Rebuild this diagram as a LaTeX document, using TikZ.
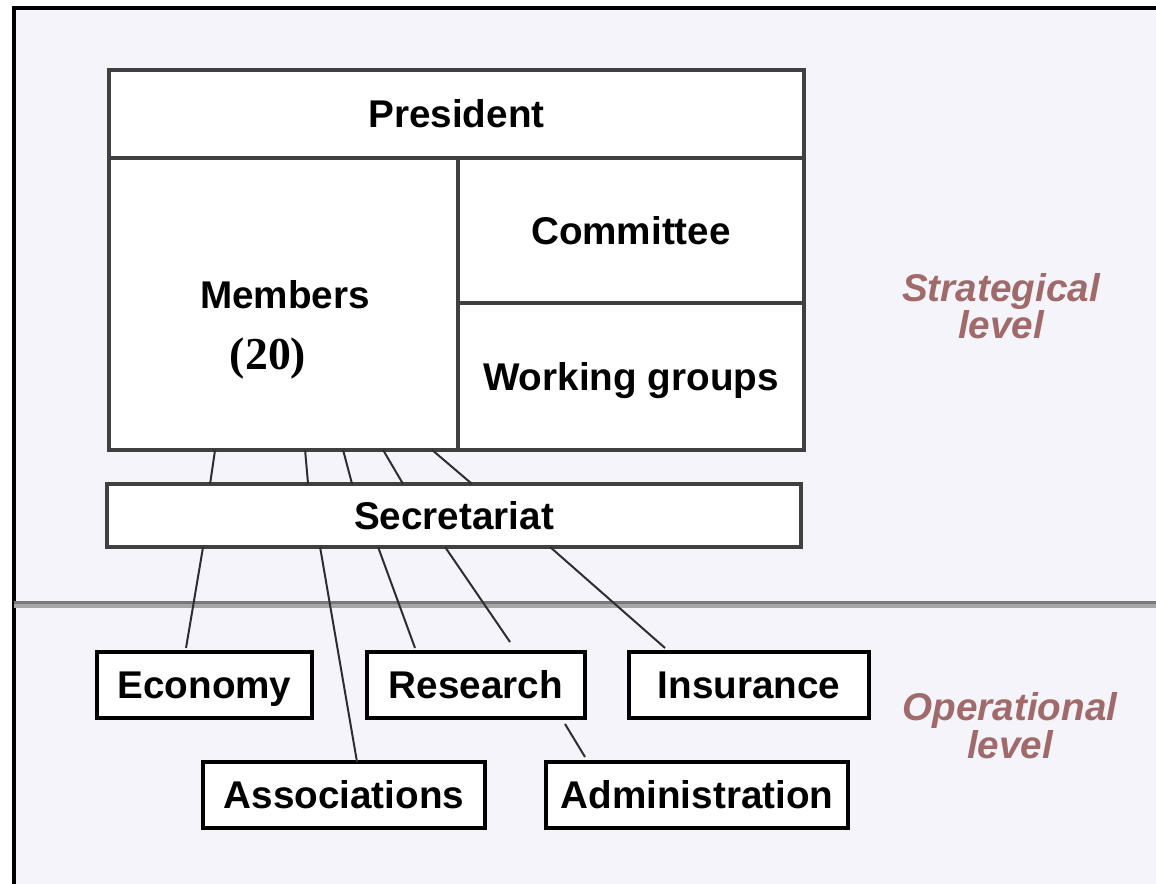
\documentclass[tikz,border=0pt]{standalone}
\usepackage{fontspec}
\setmainfont{Liberation Sans}
\newfontfamily\countfont{Liberation Serif}
\usetikzlibrary{positioning, calc}
\definecolor{panelbg}{HTML}{F4F4FA}
\definecolor{boxline}{HTML}{404040}
\definecolor{linkgray}{HTML}{2E2E2E}
\definecolor{levelred}{HTML}{A06A6A}
\definecolor{rulehi}{HTML}{787878}
\definecolor{rulelo}{HTML}{A6A6A6}
\tikzstyle{upperbox} = [rectangle, draw=boxline, fill=white, line width=0.085cm, inner sep=0pt, outer sep=0pt, font=\fontsize{22}{26}\selectfont\bfseries, text height=15.7pt, text depth=0pt]
\tikzstyle{unitbox} = [rectangle, draw=black, fill=white, line width=0.08cm, inner sep=0pt, outer sep=0pt, minimum height=1.32cm, font=\fontsize{22}{26}\selectfont\bfseries, text height=15.7pt, text depth=0pt]
\tikzstyle{label} = [inner sep=0pt, anchor=base, font=\fontsize{22}{26}\selectfont\bfseries]
\tikzstyle{level} = [inner sep=0pt, anchor=base, align=center, text=levelred, font=\fontsize{22}{21.6}\selectfont\bfseries\itshape]
\tikzstyle{link} = [draw=linkgray, line width=0.04cm]

\begin{document}
\begin{tikzpicture}[x=0.02cm, y=-0.02cm]
    % Frame
    \useasboundingbox (0,0) rectangle (1156,884);
    \fill[panelbg] (14,8) rectangle (1156,884);
    \draw[line width=0.08cm] (14,884) -- (14,8) -- (1156,8);
    \draw[rulehi, line width=0.065cm] (14,602.5) -- (1156,602.5);
    \draw[rulelo, line width=0.065cm] (14,606) -- (1156,606);

    % Strategical level
    \node (president) [upperbox, minimum width=13.9cm, minimum height=1.76cm] at (456.5,114) {President};
    \node (members) [upperbox, minimum width=6.98cm, minimum height=5.84cm, below right=0pt and 0pt of president.south west] {};
    \node (committee) [upperbox, minimum width=6.92cm, minimum height=2.9cm, below left=0pt and 0pt of president.south east] {Committee};
    \node (workgroups) [upperbox, minimum width=6.92cm, minimum height=2.94cm, below=0pt of committee] {Working groups};
    \node (memberstxt) [label] at (285,309) {Members};
    \node (memberscount) [label, font=\fontsize{26}{30}\selectfont\bfseries\countfont] at (268,370) {(20)};
    \node (secretariat) [upperbox, minimum width=13.88cm, minimum height=1.26cm] at (454,515.5) {Secretariat};

    % Operational level
    \node (economy) [unitbox, minimum width=4.3cm] at (204.5,685) {Economy};
    \node (research) [unitbox, minimum width=4.36cm] at (476,685) {Research};
    \node (insurance) [unitbox, minimum width=4.8cm] at (749,685) {Insurance};
    \node (associations) [unitbox, minimum width=5.64cm] at (344,795) {Associations};
    \node (administration) [unitbox, minimum width=6.04cm] at (697,795) {Administration};

    \node (strategic) [level] at (1001,339) {Strategical\\level};
    \node (operational) [level] at (1010,758) {Operational\\level};

    % Links
    \draw [link] ($(members.south west)+(106,0)$) -- ($(secretariat.north west)+(103,0)$);
    \draw [link] ($(members.south west)+(196,0)$) -- ($(secretariat.north west)+(201,0)$);
    \draw [link] ($(members.south west)+(234,0)$) -- ($(secretariat.north west)+(245,0)$);
    \draw [link] ($(members.south west)+(274,0)$) -- ($(secretariat.north west)+(296,0)$);
    \draw [link] ($(members.south west)+(323,0)$) -- ($(secretariat.north west)+(365,0)$);
    \draw [link] ($(secretariat.south west)+(96,0)$) -- ($(economy.north west)+(89,-4)$);
    \draw [link] ($(secretariat.south west)+(213,0)$) -- ($(associations.north west)+(154,0)$);
    \draw [link] ($(secretariat.south west)+(271,0)$) -- ($(research.north west)+(48,-4)$);
    \draw [link] ($(secretariat.south west)+(338,0)$) -- ($(research.north west)+(143,-10)$);
    \draw [link] ($(secretariat.south west)+(443,0)$) -- ($(insurance.north west)+(36,-4)$);
    \draw [link] ($(research.south west)+(198,6)$) -- ($(administration.north west)+(39,-5)$);

  \end{tikzpicture}
\end{document}
